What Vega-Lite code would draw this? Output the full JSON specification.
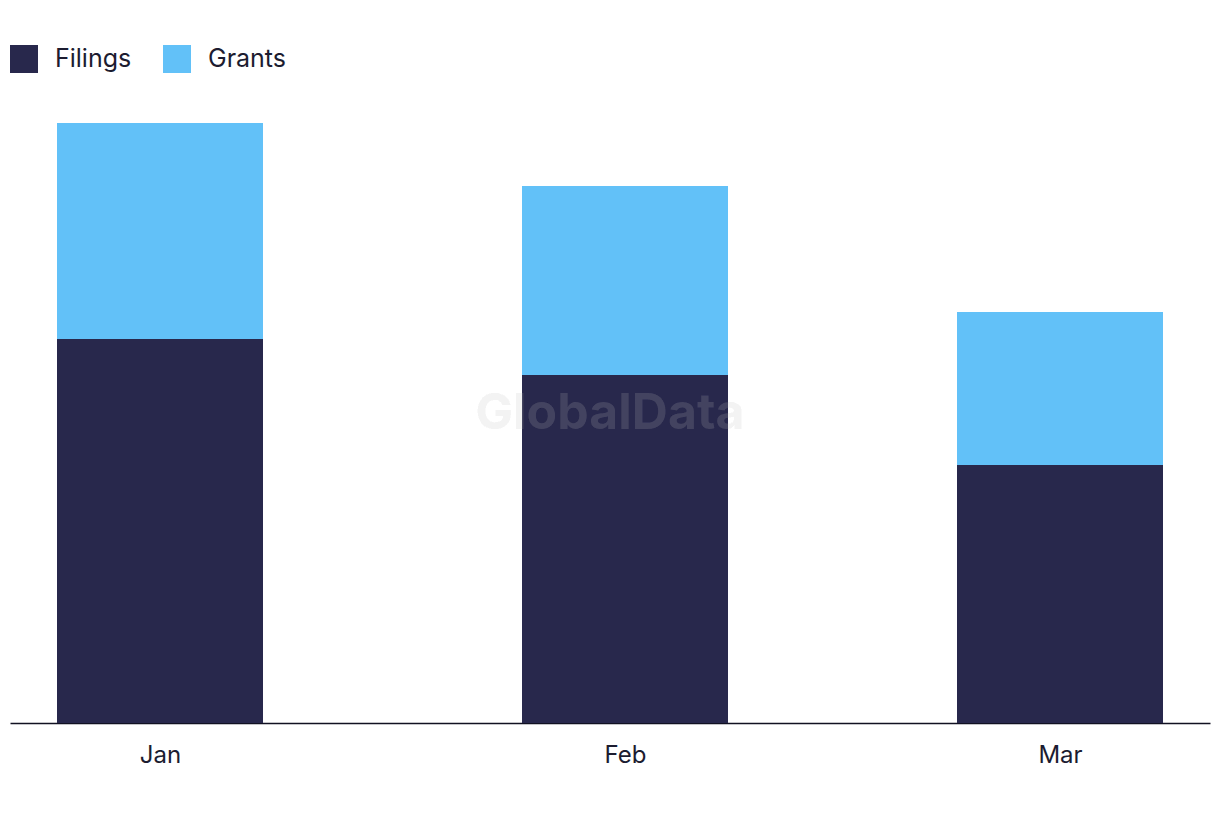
{
  "$schema": "https://vega.github.io/schema/vega-lite/v6.json",
  "width": 1200,
  "height": 630,
  "autosize": "none",
  "padding": {"left": 10, "top": 93, "right": 10, "bottom": 99},
  "background": "#ffffff",
  "config": {
    "view": {"stroke": null},
    "font": "Inter"
  },
  "data": {
    "values": [
      {"month": "2024-01-01", "series": "Filings", "count": 128},
      {"month": "2024-01-01", "series": "Grants", "count": 72},
      {"month": "2024-02-01", "series": "Filings", "count": 116},
      {"month": "2024-02-01", "series": "Grants", "count": 63},
      {"month": "2024-03-01", "series": "Filings", "count": 86},
      {"month": "2024-03-01", "series": "Grants", "count": 51}
    ]
  },
  "layer": [
    {
      "mark": {"type": "bar", "width": 206},
      "encoding": {
        "x": {
          "field": "month",
          "type": "temporal",
          "scale": {
            "type": "utc",
            "padding": 0,
            "nice": false,
            "domain": [
              {"year": 2023, "month": 12, "date": 22, "utc": true},
              {"year": 2024, "month": 3, "date": 11, "utc": true}
            ]
          },
          "axis": {
            "title": null,
            "values": [
              {"year": 2024, "month": 1, "date": 1, "utc": true},
              {"year": 2024, "month": 2, "date": 1, "utc": true},
              {"year": 2024, "month": 3, "date": 1, "utc": true}
            ],
            "labelExpr": "utcFormat(datum.value, '%b')",
            "ticks": false,
            "grid": false,
            "domainColor": "#111122",
            "domainWidth": 1.5,
            "labelFontSize": 24,
            "labelColor": "#1c1c30",
            "labelPadding": 20,
            "labelFont": "Inter"
          }
        },
        "y": {
          "field": "count",
          "type": "quantitative",
          "stack": "zero",
          "scale": {"domain": [0, 210], "nice": false, "zero": true},
          "axis": null
        },
        "color": {
          "field": "series",
          "type": "nominal",
          "scale": {"domain": ["Filings", "Grants"], "range": ["#28284c", "#62c1f8"]},
          "legend": {
            "title": null,
            "orient": "none",
            "legendX": 0,
            "legendY": -48,
            "direction": "horizontal",
            "padding": 0,
            "symbolType": "square",
            "symbolSize": 784,
            "symbolStrokeWidth": 0,
            "symbolOpacity": 1,
            "labelFontSize": 25,
            "labelColor": "#1c1c30",
            "labelFont": "Inter",
            "labelOffset": 17,
            "columnPadding": 31
          }
        },
        "order": {"field": "series", "sort": "ascending"}
      }
    },
    {
      "mark": {"type": "text", "fontSize": 50, "fontWeight": "bold", "fill": "#cdcdcd", "fillOpacity": 0.18, "opacity": 0.18, "align": "center", "baseline": "middle", "font": "Inter"},
      "encoding": {
        "x": {"datum": {"year": 2024, "month": 1, "date": 31, "utc": true}, "type": "temporal"},
        "y": {"datum": 103, "type": "quantitative"},
        "text": {"value": "GlobalData"}
      }
    }
  ]
}
